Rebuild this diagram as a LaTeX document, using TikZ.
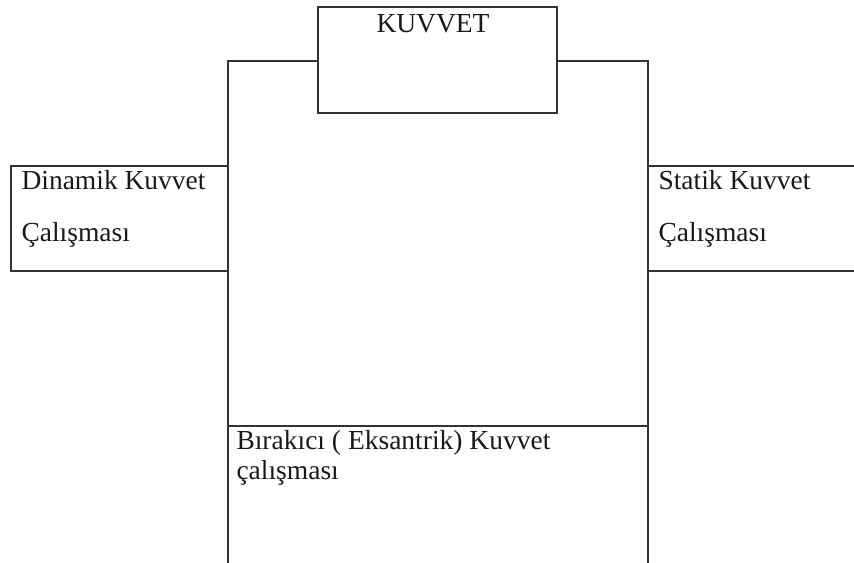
\documentclass[tikz,border=0pt]{standalone}
\usepackage{fontspec}
\setmainfont{Liberation Serif}
\begin{document}
\begin{tikzpicture}[x=0.4pt,y=-0.4pt,
  kutu/.style={draw=black!80,line width=0.6pt},
  yazi/.style={anchor=base west,inner sep=0pt,text=black!90,font=\fontsize{11}{13}\selectfont}]
\useasboundingbox (0,0) rectangle (854,562);
\clip (0,0) rectangle (854,562);
% ana kutu ve alt kutu
\draw[kutu] (228,61) rectangle (648,640);
\draw[kutu] (228,426) rectangle (648,640);
% yan kutular
\draw[kutu] (11,166) rectangle (228,271);
\draw[kutu] (648,166) rectangle (880,271);
% ust kutu
\draw[kutu,fill=white] (318,7) rectangle (557,113);
\node[yazi] (kuvvet) at (376,32) {KUVVET};
\node[yazi] (dinamik) at (21,189) {Dinamik Kuvvet};
\node[yazi] (dinamikb) at (21,241) {Çalışması};
\node[yazi] (statik) at (658,189) {Statik Kuvvet};
\node[yazi] (statikb) at (658,241) {Çalışması};
\node[yazi] (birakici) at (236,449) {Bırakıcı ( Eksantrik) Kuvvet};
\node[yazi] (birakicib) at (236,479) {çalışması};
\end{tikzpicture}
\end{document}
